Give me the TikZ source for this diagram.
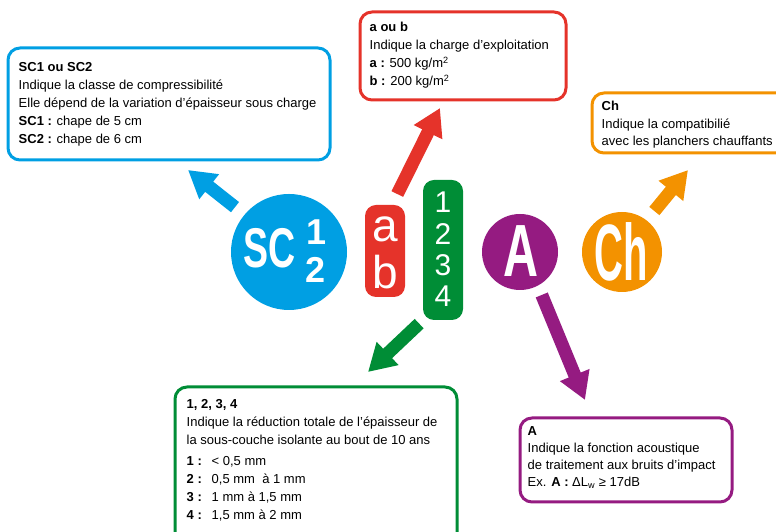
\documentclass[tikz,border=0pt]{standalone}
\usepackage{fontspec}
\setmainfont{Liberation Sans}
\usepackage{tikz}
\usetikzlibrary{arrows.meta}
\usetikzlibrary{positioning}

\definecolor{scblue}{RGB}{0,159,227}
\definecolor{abred}{RGB}{229,51,42}
\definecolor{numgreen}{RGB}{0,141,54}
\definecolor{acpurple}{RGB}{149,27,129}
\definecolor{chorange}{RGB}{243,146,0}

\newcommand{\slim}[2]{\scalebox{#1}[1]{#2}}
\newcommand{\numitem}[2]{\makebox[25pt][l]{\textbf{#1 :}}#2}

\tikzset{
    infobox/.style = {rectangle, rounded corners = 12pt, line width = 3pt, inner sep = 0},
    infotext/.style = {inner sep = 0, align = left, font = \fontsize{13}{18}\selectfont},
    disc/.style = {circle, inner sep = 0},
    pill/.style = {rectangle, rounded corners = 11pt, inner sep = 0, minimum width = 40pt},
    glyph/.style = {text = white, inner sep = 0},
    bigarrow/.style = {line width = 13pt, -{Triangle[width = 30pt, length = 27pt]}}
}

\begin{document}
\begin{tikzpicture}[x = 1pt, y = 1pt]
            \useasboundingbox (0,0) rectangle (776,532);
            % boxes
            \node[infobox, draw = scblue, minimum width = 322pt, minimum height = 112pt] (scbox) at (169,428) {};
            \node[infobox, draw = abred, minimum width = 206pt, minimum height = 88pt] (abbox) at (463,476) {};
            \node[infobox, draw = chorange, minimum width = 198pt, minimum height = 60pt] (chbox) at (691,409) {};
            \node[infobox, draw = numgreen, minimum width = 282pt, minimum height = 158pt] (numbox) at (316,66) {};
            \node[infobox, draw = acpurple, minimum width = 212pt, minimum height = 84pt] (acbox) at (626,72) {};
            \node[infotext, below right = 15.6pt and 12pt of scbox.north west] (sctext) {\textbf{SC1 ou SC2}\\Indique la classe de compressibilité\\Elle dépend de la variation d’épaisseur sous charge\\\textbf{SC1 :} chape de 5 cm\\\textbf{SC2 :} chape de 6 cm};
            \node[infotext, below right = 11.5pt and 11pt of abbox.north west] (abtext) {\textbf{a ou b}\\Indique la charge d’exploitation\\\textbf{a :} 500 kg/m\textsuperscript{2}\\\textbf{b :} 200 kg/m\textsuperscript{2}};
            \node[infotext, font = \fontsize{13}{17.5}\selectfont, below right = 9.6pt and 11pt of chbox.north west] (chtext) {\textbf{Ch}\\Indique la compatibilié\\avec les planchers chauffants};
            \node[infotext, below right = 13.6pt and 13pt of numbox.north west] (numtext) {\textbf{1, 2, 3, 4}\\Indique la réduction totale de l’épaisseur de\\la sous-couche isolante au bout de 10 ans\\[3pt]\numitem{1}{< 0,5 mm}\\\numitem{2}{0,5 mm~ à 1 mm}\\\numitem{3}{1 mm à 1,5 mm}\\\numitem{4}{1,5 mm à 2 mm}};
            \node[infotext, font = \fontsize{13}{17}\selectfont, below right = 9.6pt and 9pt of acbox.north west] (actext) {\textbf{A}\\Indique la fonction acoustique\\de traitement aux bruits d’impact\\Ex. \textbf{A :} ΔL\textsubscript{w} ≥ 17dB};
            % symbols
            \node[disc, fill = scblue, minimum size = 116pt] (sc) at (289,280) {};
            \node[pill, fill = abred, minimum height = 92pt] (ab) at (385,281) {};
            \node[pill, fill = numgreen, minimum height = 140pt] (num) at (443,282) {};
            \node[disc, fill = acpurple, minimum size = 76pt] (ac) at (520,280) {};
            \node[disc, fill = chorange, minimum size = 80pt] (ch) at (622,280) {};
            \node[glyph, font = \bfseries\fontsize{56}{56}\selectfont] (sclabel) at (270,283.5) {\slim{0.67}{SC}};
            \node[glyph, font = \bfseries\fontsize{36}{36}\selectfont] (scone) at (317,299.5) {1};
            \node[glyph, font = \bfseries\fontsize{36}{36}\selectfont] (sctwo) at (316,262) {2};
            \node[glyph, font = \fontsize{46}{46}\selectfont, anchor = base] (alabel) at (385,290) {a};
            \node[glyph, font = \fontsize{46}{46}\selectfont, anchor = base] (blabel) at (385,243) {b};
            \foreach \d in {1,...,4}
                \node[glyph, font = \fontsize{30}{30}\selectfont, anchor = base] (digit\d) at (443,{319-31.3*(\d-1)}) {\d};
            \node[glyph, font = \bfseries\fontsize{74}{74}\selectfont] (aclabel) at (520.5,280.5) {\slim{0.655}{A}};
            \node[glyph, font = \bfseries\fontsize{80}{80}\selectfont] (chlabel) at (621.5,280.5) {\slim{0.5}{Ch}};
            % arrows
            \coordinate (sctip) at (188,362);
            \coordinate (abtip) at (440,424);
            \coordinate (numtip) at (368,160);
            \coordinate (actip) at (585,132);
            \coordinate (chtip) at (688,362);
            \draw[bigarrow, scblue, shorten < = 12pt] (sc.140) -- (sctip);
            \draw[bigarrow, abred, shorten < = 12pt] ([xshift = 7pt]ab.north) -- (abtip);
            \draw[bigarrow, numgreen, shorten < = 5pt] (num.south west) -- (numtip);
            \draw[bigarrow, acpurple, shorten < = 10pt] (ac.-62) -- (actip);
            \draw[bigarrow, chorange, shorten < = 12pt] (ch.52) -- (chtip);
\end{tikzpicture}
\end{document}
